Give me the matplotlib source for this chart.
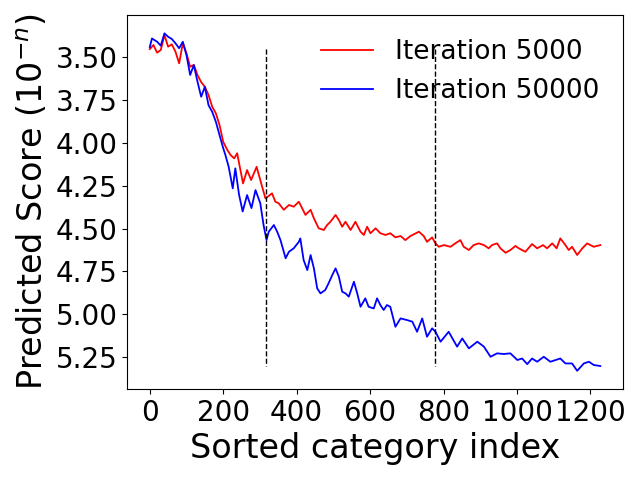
"""Predicted score per sorted category index for two training iterations"""

import matplotlib

matplotlib.use("Agg")
import matplotlib.pyplot as plt

# Data
red_x = [0, 10, 20, 30, 40, 50, 60, 70, 80, 90, 100, 110, 120, 130, 140, 150, 160, 170, 180, 190,
         200, 211, 220, 230, 238, 254, 265, 276, 291, 306, 315, 321, 333, 342, 351, 365, 379, 392,
         406, 415, 424, 438, 447, 460, 474, 483, 492, 506, 515, 524, 533, 547, 560, 574, 583, 592,
         601, 615, 628, 642, 655, 669, 683, 696, 710, 733, 746, 755, 769, 778, 787, 801, 819, 832,
         846, 855, 869, 882, 896, 910, 923, 932, 946, 955, 969, 982, 996, 1005, 1023, 1041, 1055,
         1071, 1082, 1096, 1108, 1118, 1132, 1141, 1150, 1164, 1178, 1191, 1209, 1227]
red_y = [3.452, 3.428, 3.473, 3.457, 3.370, 3.438, 3.424, 3.467, 3.535, 3.418, 3.477, 3.555, 3.545,
         3.603, 3.645, 3.672, 3.720, 3.788, 3.827, 3.895, 3.993, 4.040, 4.070, 4.090, 4.060, 4.236,
         4.158, 4.216, 4.139, 4.255, 4.323, 4.314, 4.294, 4.343, 4.352, 4.390, 4.362, 4.372, 4.343,
         4.381, 4.420, 4.390, 4.440, 4.498, 4.508, 4.479, 4.460, 4.420, 4.450, 4.489, 4.460, 4.508,
         4.460, 4.518, 4.537, 4.489, 4.527, 4.498, 4.527, 4.537, 4.527, 4.551, 4.543, 4.567, 4.543,
         4.518, 4.543, 4.577, 4.551, 4.586, 4.606, 4.596, 4.606, 4.586, 4.567, 4.606, 4.625, 4.596,
         4.586, 4.596, 4.615, 4.596, 4.586, 4.615, 4.641, 4.625, 4.601, 4.615, 4.635, 4.590, 4.615,
         4.596, 4.615, 4.586, 4.615, 4.557, 4.596, 4.625, 4.606, 4.654, 4.615, 4.586, 4.606, 4.596]

blue_x = [0, 6, 20, 30, 40, 50, 60, 70, 80, 90, 100, 110, 120, 130, 140, 150, 160, 170, 180, 190,
          200, 206, 215, 226, 233, 243, 253, 265, 277, 288, 301, 310, 318, 324, 338, 347, 356, 370,
          379, 392, 406, 410, 419, 429, 438, 447, 456, 465, 478, 487, 497, 506, 515, 524, 533, 542,
          556, 565, 574, 587, 596, 610, 619, 628, 637, 646, 655, 669, 683, 701, 715, 728, 742, 755,
          769, 778, 792, 814, 837, 851, 869, 892, 910, 928, 946, 964, 982, 1001, 1014, 1028, 1041,
          1055, 1073, 1091, 1118, 1132, 1150, 1164, 1182, 1196, 1209, 1227]
blue_y = [3.440, 3.390, 3.409, 3.432, 3.360, 3.380, 3.393, 3.418, 3.447, 3.409, 3.487, 3.603, 3.545,
          3.642, 3.730, 3.672, 3.779, 3.818, 3.876, 3.954, 4.030, 4.070, 4.140, 4.265, 4.148, 4.300,
          4.400, 4.304, 4.380, 4.275, 4.352, 4.480, 4.567, 4.518, 4.479, 4.518, 4.567, 4.673, 4.635,
          4.615, 4.577, 4.557, 4.683, 4.742, 4.654, 4.732, 4.849, 4.878, 4.858, 4.819, 4.771, 4.732,
          4.781, 4.868, 4.878, 4.897, 4.810, 4.878, 4.956, 4.907, 4.956, 4.966, 4.907, 4.946, 4.975,
          4.946, 4.956, 5.073, 5.024, 5.034, 5.043, 5.102, 5.024, 5.131, 5.082, 5.102, 5.160, 5.102,
          5.189, 5.141, 5.199, 5.160, 5.189, 5.248, 5.228, 5.232, 5.228, 5.267, 5.258, 5.291, 5.258,
          5.277, 5.248, 5.277, 5.258, 5.287, 5.287, 5.330, 5.287, 5.277, 5.296, 5.302]

split_points = [316, 776]  # vertical dashed markers
series_labels = ["Iteration 5000", "Iteration 50000"]
y_ticks = [3.50, 3.75, 4.00, 4.25, 4.50, 4.75, 5.00, 5.25]
x_ticks = [0, 200, 400, 600, 800, 1000, 1200]

figure = plt.figure(figsize=(6.4, 4.8), dpi=100)
axes = figure.add_subplot()
figure.subplots_adjust(left=0.199, right=0.973, top=0.968, bottom=0.190)

axes.plot(red_x, red_y, color="red", linewidth=1.3, label=series_labels[0])
axes.plot(blue_x, blue_y, color="blue", linewidth=1.3, label=series_labels[1])
axes.vlines(split_points, 3.45, 5.30, colors="black", linestyles="--", linewidth=1)

axes.set_xlim(-61, 1288)
axes.set_ylim(5.435, 3.255)  # inverted: higher score at the top
axes.set_yticks(y_ticks)
axes.set_xticks(x_ticks)
axes.tick_params(labelsize=20)

axes.set_xlabel("Sorted category index", fontsize=24)
axes.set_ylabel("Predicted Score ($10^{-n}$)", fontsize=24)
axes.legend(loc="upper right", frameon=False, fontsize=19)

figure.savefig("out.png")
